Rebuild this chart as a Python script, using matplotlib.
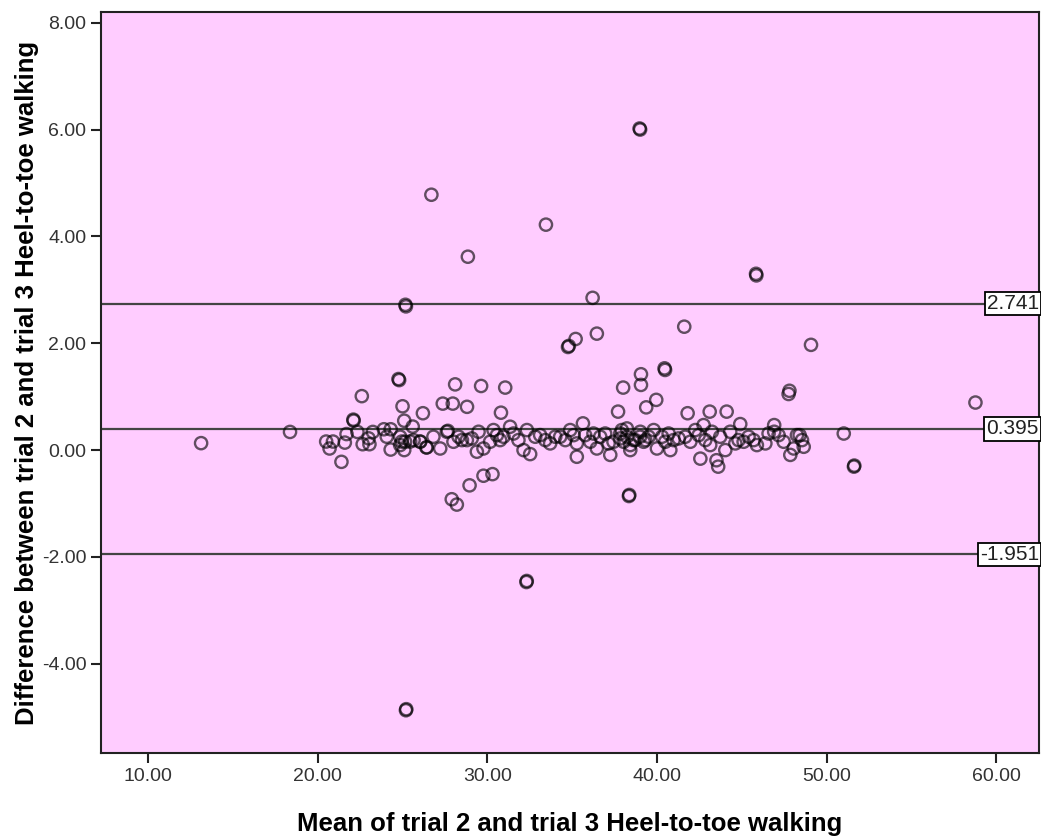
import matplotlib
matplotlib.use("Agg")
import matplotlib.pyplot as plt
from matplotlib.ticker import FormatStrFormatter

plt.rcParams['font.family'] = ['Liberation Sans', 'DejaVu Sans']

# mean of trial 2 and trial 3 (x) and their difference (y)
mean_vals = [
    13.13, 18.37, 26.7, 33.45, 28.85, 25.17, 25.2, 36.2, 36.45, 35.2,
    34.75, 34.8, 24.76, 24.8, 28.1, 29.63, 31.05, 38.0, 38.97, 39.0,
    45.83, 45.85, 41.6, 49.07, 39.05, 40.44, 40.47, 39.05, 27.9, 28.2,
    28.95, 29.77, 30.3, 38.34, 38.36, 32.3, 32.32, 25.2, 25.22, 58.76,
    51.0, 51.6, 51.62, 22.6, 25.0, 26.2, 22.1, 22.12, 25.1, 25.6,
    22.34, 21.7, 23.25, 23.9, 24.3, 24.07, 20.5, 20.9, 20.7, 21.6,
    21.4, 22.65, 23.05, 23.0, 24.3, 24.96, 25.45, 25.1, 26.04, 26.4,
    27.37, 27.96, 28.8, 30.8, 27.67, 37.7, 39.36, 39.95, 41.8, 43.1,
    44.1, 47.8, 47.75, 42.55, 43.5, 43.6, 48.4,
    # dense band 25-39
    24.86, 25.15, 24.86, 25.65, 26.04, 26.43, 26.82, 27.22, 27.61, 28.0,
    28.3, 28.5, 28.79, 29.08, 29.48, 29.38, 29.77, 30.16, 30.36, 30.56,
    30.75, 30.95, 31.34, 31.54, 31.83, 32.13, 32.33, 32.52, 32.82, 33.11,
    33.41, 33.7, 34.0, 34.29, 34.59, 34.88, 35.08, 35.27, 35.27, 35.63,
    35.76, 36.06, 36.25, 36.45, 36.65, 36.94, 37.14, 37.24, 37.43, 37.83,
    37.92, 38.22, 38.42, 38.61, 39.0, 39.3,
    # dense band 38-49
    37.83, 38.03, 38.22, 38.42, 38.71, 39.01, 39.21, 39.5, 39.8, 39.99,
    40.29, 40.48, 40.68, 40.78, 40.97, 41.27, 41.66, 41.96, 42.25, 42.45,
    42.74, 42.84, 43.13, 43.23, 43.72, 44.02, 44.31, 44.61, 44.8, 44.9,
    45.1, 45.39, 45.69, 45.88, 46.38, 46.57, 46.9, 46.9, 47.16, 47.46,
    47.85, 48.05, 48.24, 48.54, 48.64,
]
diff_vals = [
    0.13, 0.34, 4.78, 4.22, 3.62, 2.72, 2.69, 2.85, 2.18, 2.08,
    1.93, 1.95, 1.33, 1.31, 1.23, 1.20, 1.17, 1.17, 6.02, 6.0,
    3.30, 3.27, 2.31, 1.97, 1.42, 1.53, 1.50, 1.22, -0.92, -1.02,
    -0.66, -0.48, -0.45, -0.86, -0.84, -2.47, -2.45, -4.87, -4.85, 0.89,
    0.31, -0.31, -0.29, 1.01, 0.82, 0.69, 0.57, 0.55, 0.55, 0.44,
    0.34, 0.30, 0.34, 0.39, 0.39, 0.25, 0.16, 0.16, 0.03, 0.14,
    -0.22, 0.11, 0.11, 0.22, 0.01, 0.16, 0.16, 0.0, 0.16, 0.05,
    0.87, 0.87, 0.81, 0.70, 0.36, 0.72, 0.80, 0.94, 0.69, 0.72,
    0.72, 1.11, 1.05, -0.16, -0.19, -0.31, 0.28,
    0.25, 0.156, 0.094, 0.187, 0.156, 0.05, 0.25, 0.03, 0.343, 0.156,
    0.25, 0.187, 0.187, 0.218, 0.343, -0.03, 0.03, 0.156, 0.375, 0.28,
    0.187, 0.25, 0.437, 0.31, 0.187, 0.0, 0.375, -0.075, 0.25, 0.28,
    0.187, 0.125, 0.25, 0.25, 0.187, 0.375, 0.28, 0.125, -0.125, 0.50,
    0.28, 0.156, 0.31, 0.03, 0.25, 0.31, 0.125, -0.09, 0.156, 0.218,
    0.375, 0.405, 0.094, 0.187, 0.25, 0.187,
    0.31, 0.156, 0.25, 0.0, 0.187, 0.343, 0.156, 0.25, 0.375, 0.03,
    0.25, 0.156, 0.31, 0.0, 0.187, 0.218, 0.25, 0.156, 0.375, 0.28,
    0.468, 0.187, 0.094, 0.343, 0.25, 0.0, 0.343, 0.125, 0.187, 0.487,
    0.156, 0.25, 0.187, 0.094, 0.125, 0.31, 0.468, 0.343, 0.28, 0.156,
    -0.09, 0.03, 0.28, 0.187, 0.062,
]

# mean difference and limits of agreement
ref_lines = [2.741, 0.395, -1.951]
ref_labels = ['2.741', '0.395', '-1.951']

fig = plt.figure(figsize=(10.41, 8.36), dpi=100)
ax = fig.add_axes([0.097, 0.0993, 0.901, 0.8863])
ax.set_facecolor('#FFCCFF')

for yv in ref_lines:
    ax.axhline(yv, color='#444444', lw=1.6, zorder=2)

ax.scatter(mean_vals, diff_vals, s=78, facecolors='none',
           edgecolors=(0, 0, 0, 0.62), linewidths=1.7, zorder=3)

for yv, lab in zip(ref_lines, ref_labels):
    ax.annotate(lab, xy=(1.0, yv), xycoords=('axes fraction', 'data'),
                ha='right', va='center', fontsize=15, color='#222222',
                bbox=dict(boxstyle='square,pad=0.1', fc='white', ec='black', lw=1.3),
                zorder=5)

ax.set_xlim(7.23, 62.5)
ax.set_ylim(-5.67, 8.2)
ax.set_xticks([10, 20, 30, 40, 50, 60])
ax.set_yticks([-4, -2, 0, 2, 4, 6, 8])
ax.xaxis.set_major_formatter(FormatStrFormatter('%.2f'))
ax.yaxis.set_major_formatter(FormatStrFormatter('%.2f'))
ax.tick_params(direction='out', length=7, width=1.5, color='#222222',
               labelsize=14, labelcolor='#333333')

for sp in ax.spines.values():
    sp.set_color('#222222')
    sp.set_linewidth(1.5)

ax.set_xlabel('Mean of trial 2 and trial 3 Heel-to-toe walking',
              fontsize=18.5, fontweight='bold', labelpad=20)
ax.set_ylabel('Difference between trial 2 and trial 3 Heel-to-toe walking',
              fontsize=18.5, fontweight='bold')
ax.yaxis.set_label_coords(-0.066, 0.5)

fig.savefig('out.png', dpi=100)
